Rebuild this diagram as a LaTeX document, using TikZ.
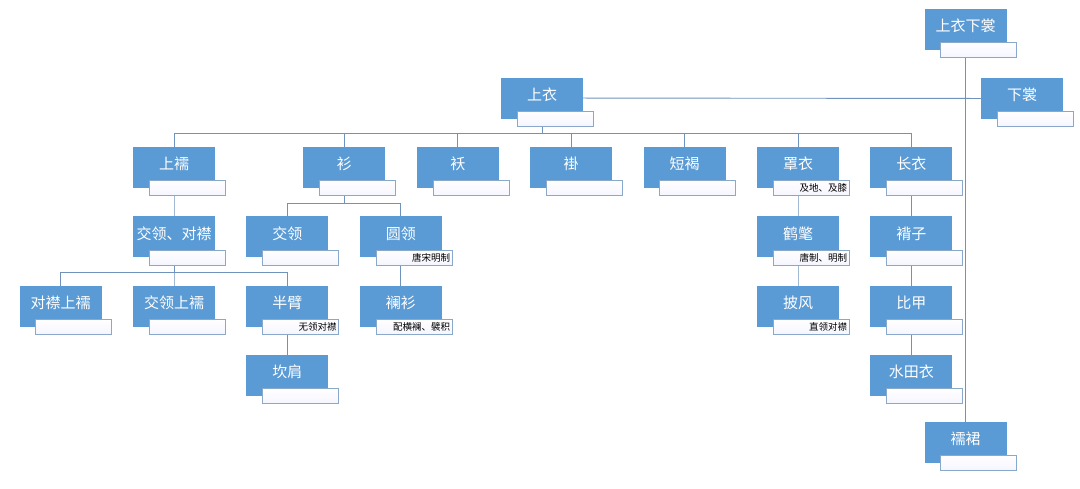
\documentclass[tikz,border=0pt]{standalone}
\usepackage{fontspec}
\setmainfont{Noto Sans CJK SC}
\usetikzlibrary{positioning,backgrounds}

\definecolor{boxblue}{HTML}{5B9BD5}
\definecolor{tagline}{HTML}{8AA8CA}
\definecolor{linkline}{HTML}{6F93BC}

\tikzset{
  blk/.style={fill=boxblue, text=white, minimum width=82pt, minimum height=41pt,
    inner sep=0pt, text height=13.4pt, text depth=9pt, font=\fontsize{15}{17}\selectfont},
  tagbox/.style={draw=tagline, line width=0.8pt, top color=white, bottom color=blue!4,
    anchor=north west, minimum width=76pt, minimum height=15pt, text width=72pt,
    inner xsep=2pt, inner ysep=0pt, align=right, text=black,
    font=\fontsize{9.5}{10}\selectfont},
  link/.style={draw=linkline, line width=0.9pt}
}
% label strip under a box
\newcommand\notebox[2]{\node[tagbox] (#1-t) at ([xshift=16pt,yshift=8pt]#1.south west) {#2};}
% parent -> child through a bus 13pt above the child
\newcommand\branch[2]{\draw[link] (#1.center) |- ([yshift=13pt]#2.north) -- (#2.center);}

\begin{document}
\begin{tikzpicture}[x=1pt,y=1pt, node distance=28pt and 31pt]
  \useasboundingbox (0,0) rectangle (1080,-488);

  \node[blk] (syxc) at (965.5,-29.5) {上衣下裳};
  \node[blk] (xc) at (1022,-98.5) {下裳};
  \node[blk] (sy) at (542,-98) {上衣};
  \node[blk] (rq) at (965.5,-442.5) {襦裙};

  \node[blk] (sr) at (174,-167.5) {上襦};
  \node[blk, right=88pt of sr] (shan) {衫};
  \node[blk, right=of shan] (ao) {袄};
  \node[blk, right=of ao] (gua) {褂};
  \node[blk, right=of gua] (dh) {短褐};
  \node[blk, right=of dh] (zy) {罩衣};
  \node[blk, right=of zy] (cy) {长衣};

  \node[blk, below=of sr] (jlds) {交领、对襟};
  \node[blk, right=of jlds] (jl) {交领};
  \node[blk, right=of jl] (yl) {圆领};
  \node[blk, below=of zy] (hc) {鹤氅};
  \node[blk, below=of cy] (bz) {褙子};

  \node[blk, below=of jlds] (jlsr) {交领上襦};
  \node[blk, left=of jlsr] (djsr) {对襟上襦};
  \node[blk, right=of jlsr] (bb) {半臂};
  \node[blk, below=of yl] (ls) {襕衫};
  \node[blk, below=of hc] (pf) {披风};
  \node[blk, below=of bz] (bj) {比甲};

  \node[blk, below=of bb] (kj) {坎肩};
  \node[blk, below=of bj] (styi) {水田衣};

  \notebox{syxc}{}
  \notebox{xc}{}
  \notebox{sy}{}
  \notebox{rq}{}
  \notebox{sr}{}
  \notebox{shan}{}
  \notebox{ao}{}
  \notebox{gua}{}
  \notebox{dh}{}
  \notebox{zy}{及地、及膝}
  \notebox{cy}{}
  \notebox{jlds}{}
  \notebox{jl}{}
  \notebox{yl}{唐宋明制}
  \notebox{hc}{唐制、明制}
  \notebox{bz}{}
  \notebox{jlsr}{}
  \notebox{djsr}{}
  \notebox{bb}{无领对襟}
  \notebox{ls}{配横襕、襞积}
  \notebox{pf}{直领对襟}
  \notebox{bj}{}
  \notebox{kj}{}
  \notebox{styi}{}

  \begin{pgfonlayer}{background}
    \draw[link] (syxc.center) -- (rq.center);
    \draw[link] (sy.center) -- (xc.center);
    \foreach \c in {sr,shan,ao,gua,dh,zy,cy}{
      \branch{sy}{\c}
    }
    \branch{sr}{jlds}
    \branch{shan}{jl}
    \branch{shan}{yl}
    \branch{jlds}{djsr}
    \branch{jlds}{jlsr}
    \branch{jlds}{bb}
    \branch{bb}{kj}
    \branch{yl}{ls}
    \branch{zy}{hc}
    \branch{hc}{pf}
    \branch{cy}{bz}
    \branch{bz}{bj}
    \branch{bj}{styi}
  \end{pgfonlayer}
\end{tikzpicture}
\end{document}
